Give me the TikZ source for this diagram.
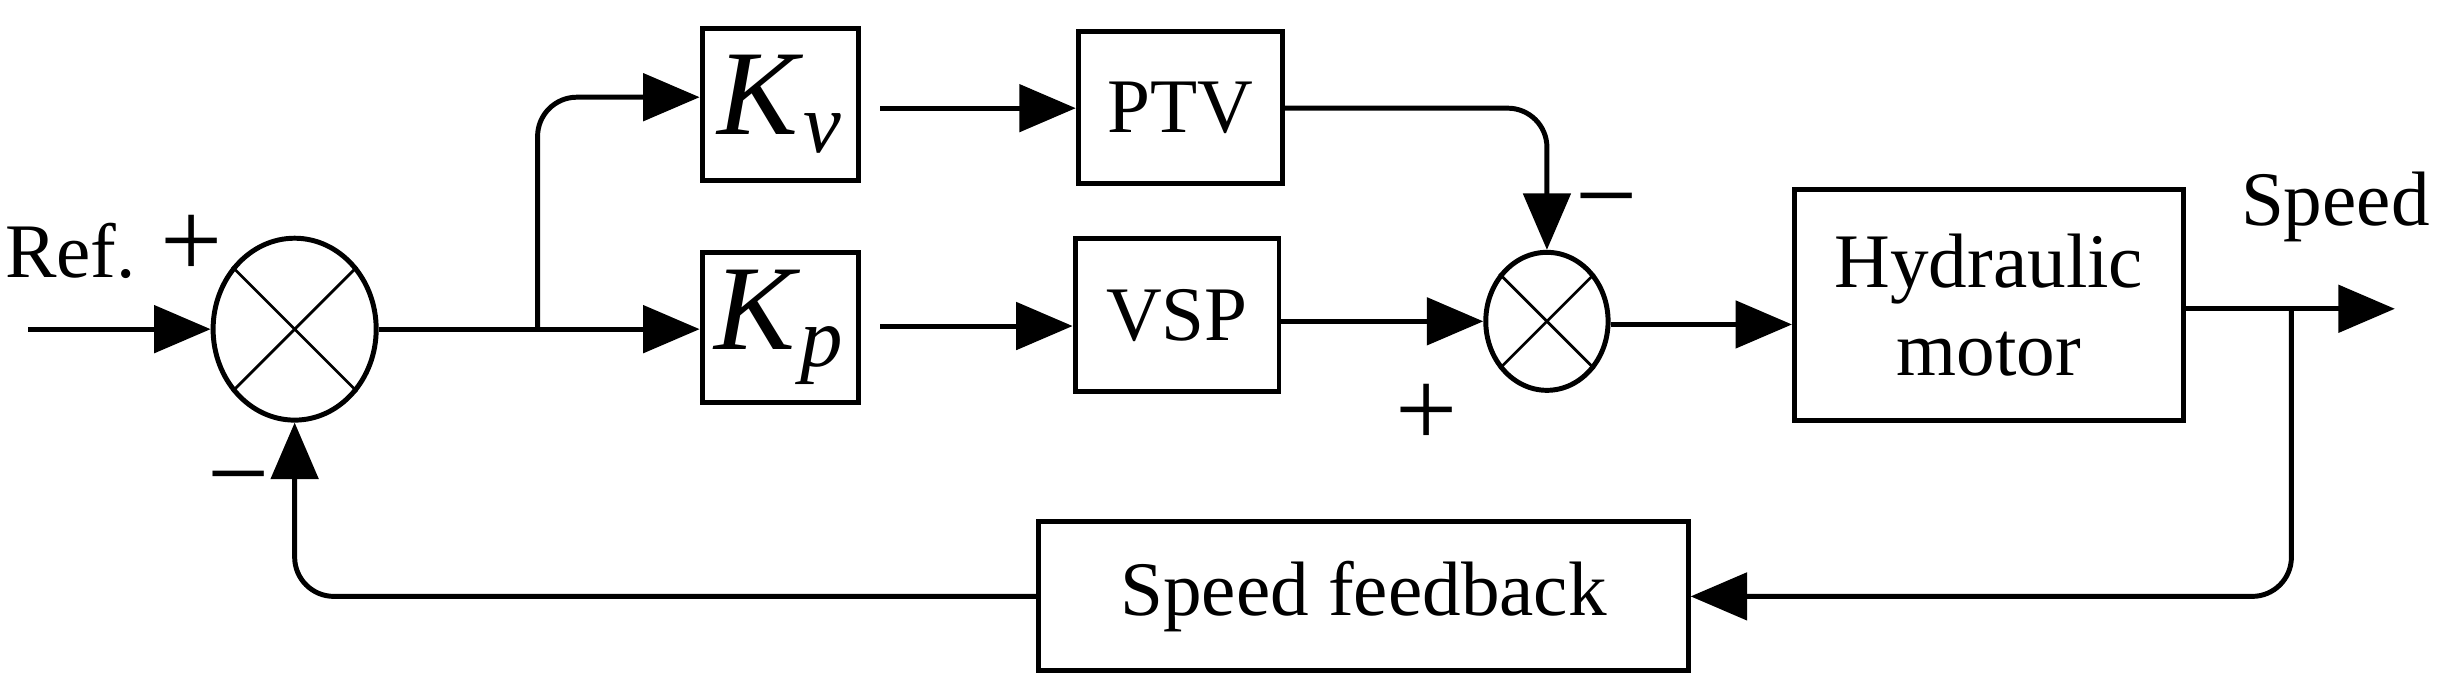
\documentclass[tikz,border=0pt]{standalone}
\usepackage{fontspec}
\setmainfont{Liberation Serif}
\usetikzlibrary{shapes.geometric,arrows.meta}
\begin{document}
\begin{tikzpicture}[x=0.01cm,y=-0.01cm,
  box/.style={draw,line width=0.9pt,inner sep=0pt,font=\fontsize{14}{16}\selectfont,align=center},
  sum/.style={draw,ellipse,line width=0.9pt,inner sep=0pt},
  ar/.style={line width=0.9pt,-{Triangle[length=0.36cm,width=0.3cm]}},
  ln/.style={line width=0.9pt},
  lab/.style={font=\fontsize{14}{16}\selectfont},
  sg/.style={font=\fontsize{20}{22}\selectfont}]
\useasboundingbox (0,0) rectangle (1560,444);
\node[sum,minimum width=1.04cm,minimum height=1.16cm] (s1) at (188,210) {};
\node[sum,minimum width=0.78cm,minimum height=0.88cm] (s2) at (987,205) {};
\foreach \s in {s1,s2}{
  \draw[line width=0.5pt] (\s.45) -- (\s.225) (\s.135) -- (\s.315);}
\node[box,minimum width=1.00cm,minimum height=0.97cm] (kv) at (498,66.5) {\fontsize{22}{24}\selectfont\textit{K}\textsubscript{\textit{v}}};
\node[box,minimum width=1.00cm,minimum height=0.96cm] (kp) at (498,209) {\fontsize{22}{24}\selectfont\textit{K}\textsubscript{\textit{p}}};
\node[box,minimum width=1.30cm,minimum height=0.97cm] (ptv) at (753,68.5) {PTV};
\node[box,minimum width=1.30cm,minimum height=0.98cm] (vsp) at (751,201) {VSP};
\node[box,minimum width=2.48cm,minimum height=1.47cm] (hyd) at (1269,194.5) {Hydraulic\\motor};
\node[box,minimum width=4.14cm,minimum height=0.95cm] (fb) at (870,380.5) {Speed feedback};
\coordinate (in) at (18,210);
\coordinate (br) at (343,210);
\coordinate (out) at (1528,197);
\coordinate (br2) at (1462,197);
\coordinate (ya) at (0,62);
\coordinate (yb) at (0,69);
\coordinate (yc) at (0,208);
\coordinate (yd) at (0,205);
\coordinate (ye) at (0,207);
\draw[ar] (in) -- (s1.west);
\draw[ln] (s1.east) -- (br);
\draw[ar] (br) -- (kp.west |- br);
\draw[ar,rounded corners=0.25cm] (br) |- (kv.west |- ya);
\draw[ar] ([xshift=0.12cm]kv.east |- yb) -- (ptv.west |- yb);
\draw[ar] ([xshift=0.12cm]kp.east |- yc) -- (vsp.west |- yc);
\draw[ar,rounded corners=0.25cm] (ptv.east |- yb) -| (s2.north);
\draw[ar] (vsp.east |- yd) -- (s2.west);
\draw[ar] (s2.east |- ye) -- (hyd.west |- ye);
\draw[ar] (hyd.east |- out) -- (out);
\draw[ar,rounded corners=0.25cm] (br2) |- (fb.east);
\draw[ar,rounded corners=0.25cm] (fb.west) -| (s1.south);
\node[lab] (ref) at (45,160) {Ref.};
\node[sg] (p1) at (122,157) {+};
\node[sg] (m1) at (152,313) {−};
\node[sg] (m2) at (1025,136) {−};
\node[sg] (p2) at (910,265) {+};
\node[lab] (spd) at (1490,132) {Speed};
\end{tikzpicture}
\end{document}
